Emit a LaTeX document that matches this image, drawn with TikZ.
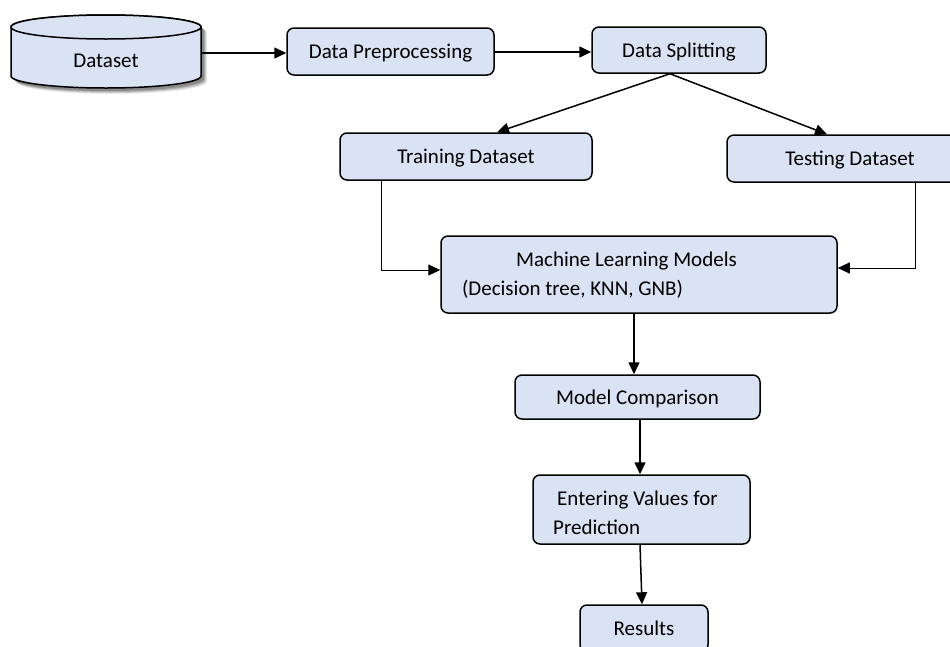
\documentclass[tikz,border=0pt]{standalone}
\usepackage{fontspec}
\setmainfont{Carlito}
\usetikzlibrary{arrows.meta,calc}
\definecolor{boxfill}{HTML}{DAE3F3}
\begin{document}
\begin{tikzpicture}[x=1pt,y=-1pt,
  box/.style={draw=black, line width=1.5pt, fill=boxfill, rounded corners=7pt, inner sep=0pt,
              text height=16pt, text depth=1.3pt,
              font=\fontsize{21}{25}\selectfont},
  lbl/.style={inner sep=0pt, font=\fontsize{21}{25}\selectfont},
  arr/.style={-{Triangle[length=12pt,width=11pt]}, line width=1.5pt},
  thinarr/.style={-{Triangle[length=12pt,width=11pt]}, line width=1pt}]
\useasboundingbox (0,0) rectangle (950,646);

% cylinder shadow
\foreach \o/\op in {6/0.08,5/0.12,4/0.16,3/0.2}{
  \fill[black, opacity=\op]
    (11+\o,27+\o) -- (11+\o,76+\o) arc[start angle=180, end angle=360, x radius=95, y radius=-12]
    -- (201+\o,27+\o) arc[start angle=0, end angle=180, x radius=95, y radius=-12] -- cycle;
}
% cylinder
\draw[line width=1.5pt, fill=boxfill]
  (11,27) -- (11,76) arc[start angle=180, end angle=360, x radius=95, y radius=-12]
  -- (201,27) arc[start angle=0, end angle=180, x radius=95, y radius=-12] -- cycle;
\draw[line width=1.5pt, fill=boxfill] (106,27) ellipse[x radius=95, y radius=12];
\node[inner sep=0pt, minimum width=190pt, minimum height=73pt] (ds) at (106,51.5) {};
\node[lbl] (dst) at (106,61) {Dataset};

\node[box, minimum width=207pt, minimum height=47pt] (pre) at (390.5,51.5) {Data Preprocessing};
\node[box, minimum width=174pt, minimum height=46pt] (spl) at (679,50) {Data Splitting};
\node[box, minimum width=252pt, minimum height=47pt] (trn) at (466,156.5) {Training Dataset};
\node[box, minimum width=246pt, minimum height=47pt] (tst) at (850,158.5) {Testing Dataset};
\node[box, minimum width=396pt, minimum height=77pt] (ml) at (639,274.5) {};
\node[lbl] (ml1) at (626.5,261) {Machine Learning Models};
\node[lbl] (ml2) at (572.5,289) {(Decision tree, KNN, GNB)};
\node[box, minimum width=245pt, minimum height=44pt] (mc) at (637.5,397) {Model Comparison};
\node[box, minimum width=217pt, minimum height=69pt] (ent) at (641.5,509.5) {};
\node[lbl, anchor=west] (en1) at (557,500) {Entering Values for};
\node[lbl, anchor=west] (en2) at (553,527) {Prediction};
\node[box, minimum width=128pt, minimum height=47pt] (res) at (644,628.5) {Results};

% connectors
\draw[arr] ($(ds.east)+(0,1.5)$) -- ($(pre.west)+(0,1.5)$);
\draw[arr] ($(pre.east)+(0,0.5)$) -- ($(spl.west)+(0,2)$);
\draw[arr] ($(spl.south)+(-9,0)$) -- ($(trn.north)+(31,0)$);
\draw[arr] ($(spl.south)+(-9,0)$) -- ($(tst.north)+(-23,0)$);
\draw[thinarr] ($(trn.south)+(-85,0)$) |- ($(ml.west)+(0,-4.5)$);
\draw[thinarr] ($(tst.south)+(65,0)$) |- ($(ml.east)+(0,-6.5)$);
\draw[arr] ($(ml.south)+(-5,0)$) -- ($(mc.north)+(-3.5,0)$);
\draw[arr] ($(mc.south)+(2.5,0)$) -- ($(ent.north)+(-1.5,0)$);
\draw[arr] ($(ent.south)+(-1.5,0)$) -- ($(res.north)+(-2,0)$);
\end{tikzpicture}
\end{document}
